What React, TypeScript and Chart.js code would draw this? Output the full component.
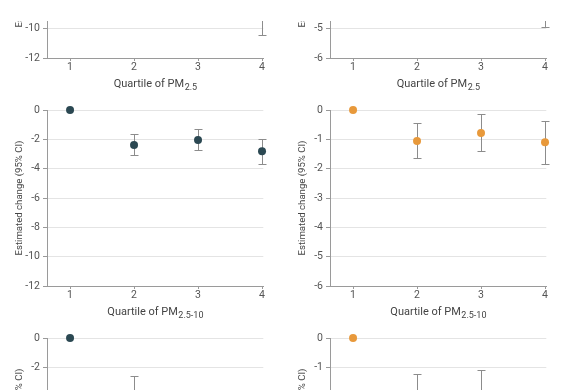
import React, { useEffect, useRef } from "react";
import { Chart, registerables } from "chart.js";

Chart.register(...registerables);

// ---------- data ----------
const quartiles = [1, 2, 3, 4];
const quartileLabels = ["1", "2", "3", "4"];

const leftTicks = [0, -2, -4, -6, -8, -10, -12];
const rightTicks = [0, -1, -2, -3, -4, -5, -6];

// Top row (PM2.5) – mostly outside the visible crop
const topLeftEst = [0, -4.2, -6.1, -9.0];
const topLeftLow = [null, -5.4, -7.3, -10.43];
const topLeftHigh = [null, -3.0, -4.9, -7.6];

const topRightEst = [0, -1.8, -2.9, -4.1];
const topRightLow = [null, -2.6, -3.7, -4.95];
const topRightHigh = [null, -1.0, -2.1, -3.25];

// Middle row (PM2.5-10)
const midLeftEst = [0, -2.38, -2.04, -2.81];
const midLeftLow = [null, -3.08, -2.74, -3.67];
const midLeftHigh = [null, -1.65, -1.29, -1.95];

const midRightEst = [0, -1.06, -0.78, -1.1];
const midRightLow = [null, -1.65, -1.39, -1.84];
const midRightHigh = [null, -0.45, -0.15, -0.37];

// Bottom row – mostly outside the visible crop
const botLeftEst = [0, -4.0, -4.8, -5.2];
const botLeftLow = [null, -4.9, -5.7, -6.2];
const botLeftHigh = [null, -2.61, -3.8, -4.1];

const botRightEst = [0, -2.05, -2.0, -2.6];
const botRightLow = [null, -2.8, -2.8, -3.4];
const botRightHigh = [null, -1.24, -1.1, -1.85];

const teal = "#2b4852";
const orange = "#e8993b";

const FONT = "Roboto, 'Noto Sans', sans-serif";

type PanelProps = {
  est: number[];
  low: (number | null)[];
  high: (number | null)[];
  color: string;
  ticks: number[];
  sub: string;
};

function Panel({ est, low, high, color, ticks, sub }: PanelProps) {
  const ref = useRef<HTMLCanvasElement | null>(null);
  useEffect(() => {
    if (!ref.current) return;
    const yMin = Math.min(...ticks);
    const yMax = Math.max(...ticks);

    const errorBars = {
      id: "errorBars",
      beforeDatasetsDraw(chart: any) {
        const { ctx } = chart;
        const x = chart.scales.x;
        const y = chart.scales.y;
        ctx.save();
        ctx.strokeStyle = "#8c8c8c";
        ctx.lineWidth = 1;
        quartiles.forEach((q, i) => {
          const lo = low[i];
          const hi = high[i];
          if (lo == null || hi == null) return;
          const px = Math.round(x.getPixelForValue(q)) + 0.5;
          const y1 = Math.round(y.getPixelForValue(lo)) + 0.5;
          const y2 = Math.round(y.getPixelForValue(hi)) + 0.5;
          const cap = 4;
          ctx.beginPath();
          ctx.moveTo(px, y1);
          ctx.lineTo(px, y2);
          ctx.moveTo(px - cap, y1);
          ctx.lineTo(px + cap, y1);
          ctx.moveTo(px - cap, y2);
          ctx.lineTo(px + cap, y2);
          ctx.stroke();
        });
        ctx.restore();
      },
    };

    const xTitle = {
      id: "xTitle",
      afterDraw(chart: any) {
        const { ctx, chartArea } = chart;
        const main = "Quartile of PM";
        ctx.save();
        ctx.fillStyle = "#444";
        ctx.textBaseline = "middle";
        ctx.font = `11px ${FONT}`;
        const w1 = ctx.measureText(main).width;
        ctx.font = `9px ${FONT}`;
        const w2 = ctx.measureText(sub).width;
        const cx = (chartArea.left + chartArea.right) / 2;
        const cy = chartArea.bottom + 26;
        const x0 = cx - (w1 + w2) / 2;
        ctx.textAlign = "left";
        ctx.font = `11px ${FONT}`;
        ctx.fillText(main, x0, cy);
        ctx.font = `9px ${FONT}`;
        ctx.fillText(sub, x0 + w1 + 0.5, cy + 4);
        ctx.restore();
      },
    };

    const chart = new Chart(ref.current, {
      type: "scatter",
      data: {
        datasets: [
          {
            data: quartiles.map((q, i) => ({ x: q, y: est[i] })),
            backgroundColor: color,
            borderColor: color,
            pointRadius: 4,
            pointBorderWidth: 0,
            clip: false as any,
          },
        ],
      },
      options: {
        animation: false,
        responsive: false,
        events: [],
        layout: { padding: { top: 10, right: 20.7, bottom: 0, left: 0 } },
        plugins: { legend: { display: false }, tooltip: { enabled: false } },
        scales: {
          x: {
            type: "linear",
            min: 0.64,
            max: 4.02,
            afterBuildTicks: (s: any) => {
              s.ticks = quartiles.map((v) => ({ value: v }));
            },
            afterFit: (s: any) => {
              s.height = 42;
            },
            ticks: {
              padding: 0,
              color: "#555",
              font: { family: FONT, size: 10.5 },
              callback: (v: any) => quartileLabels[quartiles.indexOf(Number(v))] ?? "",
            },
            grid: { drawOnChartArea: false, tickLength: 3, tickColor: "#999" },
            border: { color: "#9a9a9a" },
          },
          y: {
            min: yMin,
            max: yMax,
            afterBuildTicks: (s: any) => {
              s.ticks = ticks.map((v) => ({ value: v }));
            },
            afterFit: (s: any) => {
              s.width = 47;
            },
            ticks: {
              padding: 3,
              color: "#555",
              font: { family: FONT, size: 10.5 },
            },
            grid: { color: "#e4e4e4", tickLength: 4, tickColor: "#999" },
            border: { color: "#9a9a9a" },
            title: {
              display: true,
              text: "Estimated change (95% CI)",
              color: "#444",
              font: { family: FONT, size: 9.6 },
              padding: { top: 13.7, bottom: 0 },
            },
          },
        },
      },
      plugins: [errorBars, xTitle],
    } as any);
    return () => chart.destroy();
  }, []);
  return <canvas ref={ref} width={284} height={228} style={{ display: "block" }} />;
}

export default function App() {
  const colX = [0, 283];
  return (
    <div
      style={{
        position: "absolute",
        left: 0,
        top: 0,
        width: 569,
        height: 390,
        overflow: "hidden",
        background: "#fff",
      }}
    >
      {/* top row, clipped at y=21 */}
      <div style={{ position: "absolute", left: 0, top: 21, width: 569, height: 79, overflow: "hidden" }}>
        <div style={{ position: "absolute", left: colX[0], top: -149 }}>
          <Panel est={topLeftEst} low={topLeftLow} high={topLeftHigh} color={teal} ticks={leftTicks} sub="2.5" />
        </div>
        <div style={{ position: "absolute", left: colX[1], top: -149 }}>
          <Panel est={topRightEst} low={topRightLow} high={topRightHigh} color={orange} ticks={rightTicks} sub="2.5" />
        </div>
      </div>
      <div style={{ position: "absolute", left: colX[0], top: 100 }}>
        <Panel est={midLeftEst} low={midLeftLow} high={midLeftHigh} color={teal} ticks={leftTicks} sub="2.5-10" />
      </div>
      <div style={{ position: "absolute", left: colX[1], top: 100 }}>
        <Panel est={midRightEst} low={midRightLow} high={midRightHigh} color={orange} ticks={rightTicks} sub="2.5-10" />
      </div>
      <div style={{ position: "absolute", left: colX[0], top: 328 }}>
        <Panel est={botLeftEst} low={botLeftLow} high={botLeftHigh} color={teal} ticks={leftTicks} sub="2.5-10" />
      </div>
      <div style={{ position: "absolute", left: colX[1], top: 328 }}>
        <Panel est={botRightEst} low={botRightLow} high={botRightHigh} color={orange} ticks={rightTicks} sub="2.5-10" />
      </div>
    </div>
  );
}
